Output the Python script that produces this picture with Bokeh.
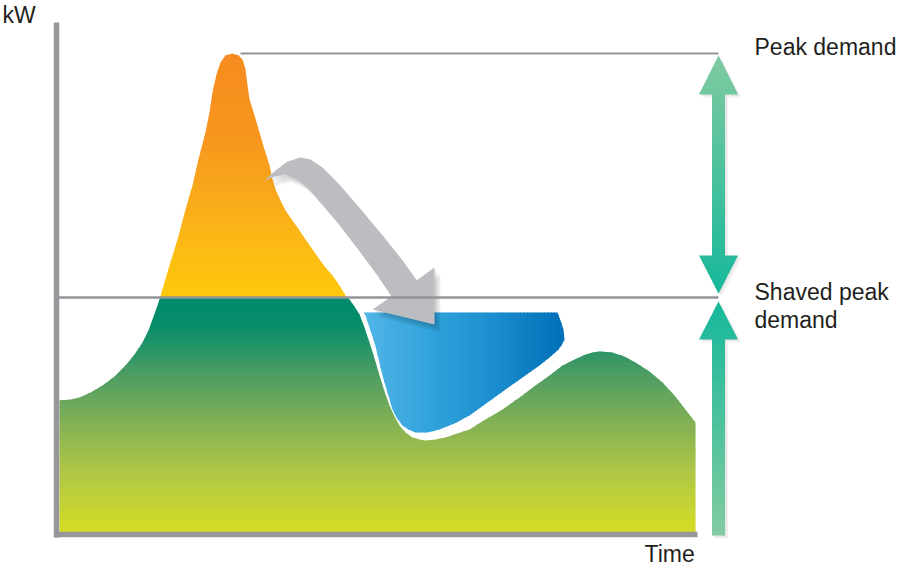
import numpy as np
from bokeh.plotting import figure
from bokeh.models import Range1d
from bokeh.core.properties import value
from bokeh.embed import file_html
from bokeh.resources import INLINE

# ---------------- data (time units, kW units) ----------------
demand_time = [2, 13, 22, 33, 45, 57, 68, 77, 85, 91, 95, 99, 102, 107, 112, 117, 122, 128, 135, 141,
               148, 152, 155, 159, 163, 168, 175, 181, 185, 188, 190, 192, 197, 202, 207, 212, 215, 218,
               223, 228, 235, 242, 248, 255, 262, 268, 275, 282, 288, 292, 297, 302, 307, 312, 317, 322,
               327, 332, 337, 342, 348, 355, 362, 368, 378, 388, 400, 412, 428, 445, 462, 478, 492, 505,
               517, 528, 535, 542, 555, 567, 578, 592, 605, 617, 628, 638]
demand_kw = [135, 136, 138, 143, 150, 159, 170, 181, 193, 205, 216, 227, 236, 253, 270, 286, 303, 326, 350, 376,
             403, 423, 443, 461, 473, 480, 482, 480, 476, 466, 450, 436, 420, 403, 386, 370, 356, 346,
             335, 325, 315, 305, 296, 286, 276, 268, 260, 250, 240, 236, 229, 221, 208, 193, 177, 160,
             144, 130, 119, 110, 103, 98, 96, 95, 96, 98, 102, 106, 116, 126, 138, 150, 160, 170,
             176, 181, 183, 184, 183, 179, 173, 164, 153, 140, 126, 113]
peak_kw = 482
shaved_kw = 238

storage_time = [306, 500, 503, 506, 507, 504, 500, 492, 482, 465, 448, 430, 412, 397, 382, 370, 358,
                351, 345, 339, 335, 330, 325, 321, 317, 312, 308]
storage_kw = [223, 223, 215, 206, 196, 190, 185, 178, 170, 158, 146, 133, 120, 112, 106, 103, 103,
              106, 110, 118, 126, 143, 160, 177, 193, 208, 220]

shift_time = [207, 218, 230, 243, 253, 265, 280, 300, 325, 345, 359, 377, 377, 315, 334, 320, 300,
              280, 263, 250, 240, 228, 217]
shift_kw = [355, 365, 374, 378, 376, 368, 353, 330, 300, 275, 255, 268, 211, 226, 239, 260, 287,
            313, 333, 348, 356, 361, 359]

axis_end_time = 640
axis_top_kw = 513
marker_time = 661
label_kw = "kW"
label_time = "Time"
label_peak = "Peak demand"
label_shaved = ["Shaved peak", "demand"]

# ---------------- helpers ----------------
def hex2rgb(h):
    return tuple(int(h[i:i + 2], 16) for i in (1, 3, 5))


def grad(stops, v):
    pos = [s[0] for s in stops]
    if v <= pos[0]:
        return stops[0][1]
    if v >= pos[-1]:
        return stops[-1][1]
    for (p0, c0), (p1, c1) in zip(stops[:-1], stops[1:]):
        if p0 <= v <= p1:
            f = (v - p0) / (p1 - p0)
            a, b = hex2rgb(c0), hex2rgb(c1)
            return "#%02x%02x%02x" % tuple(int(round(a[i] + f * (b[i] - a[i]))) for i in range(3))


def clip(poly, axis, val, keep_ge):
    out = []
    n = len(poly)
    for i in range(n):
        P, Q = poly[i - 1], poly[i]
        pin = P[axis] >= val if keep_ge else P[axis] <= val
        qin = Q[axis] >= val if keep_ge else Q[axis] <= val
        if qin:
            if not pin:
                t = (val - P[axis]) / (Q[axis] - P[axis])
                out.append((P[0] + t * (Q[0] - P[0]), P[1] + t * (Q[1] - P[1])))
            out.append(Q)
        elif pin:
            t = (val - P[axis]) / (Q[axis] - P[axis])
            out.append((P[0] + t * (Q[0] - P[0]), P[1] + t * (Q[1] - P[1])))
    return out


def banded(poly, axis, edges, stops, overlap=0.9):
    xs, ys, cols = [], [], []
    for lo, hi in zip(edges[:-1], edges[1:]):
        part = clip(clip(poly, axis, lo, True), axis, hi + overlap, False)
        if len(part) < 3:
            continue
        xs.append([q[0] for q in part])
        ys.append([q[1] for q in part])
        cols.append(grad(stops, (lo + hi) / 2))
    return xs, ys, cols


# ---------------- figure ----------------
p = figure(width=899, height=568, x_range=Range1d(-57, 842), y_range=Range1d(-33, 535),
           output_backend="svg", toolbar_location=None, min_border=0)
p.axis.visible = False
p.grid.visible = False
p.outline_line_color = None
p.background_fill_color = "white"
p.border_fill_color = "white"

demand_poly = [(demand_time[0], 0)] + list(zip(demand_time, demand_kw)) + [(demand_time[-1], 0)]

green_stops = [(0, "#d6de22"), (60, "#b2c845"), (110, "#86b254"), (160, "#4e9d63"),
               (210, "#078d6b"), (shaved_kw, "#00896b")]
orange_stops = [(shaved_kw, "#fec80c"), (263, "#fdc20f"), (310, "#fab318"), (356, "#f8a41b"),
                (403, "#f7951e"), (peak_kw, "#f68c1f")]

xs, ys, cols = banded(demand_poly, 1, np.linspace(0, shaved_kw, 70), green_stops)
p.patches(xs, ys, fill_color=cols, line_color=None)
xs, ys, cols = banded(demand_poly, 1, np.linspace(shaved_kw, peak_kw + 1, 70), orange_stops)
p.patches(xs, ys, fill_color=cols, line_color=None)

blue_stops = [(306, "#52b5e7"), (380, "#2ea1da"), (440, "#1b8ccd"), (507, "#006fb8")]
storage_poly = list(zip(storage_time, storage_kw))
xs, ys, cols = banded(storage_poly, 0, np.linspace(min(storage_time), max(storage_time), 60), blue_stops)
p.patches(xs, ys, fill_color=cols, line_color=None)

# shifted-load arrow with soft shadow
sx, sy = np.array(shift_time, float), np.array(shift_kw, float)
for dx, dy in [(2, -2), (3, -4), (5, -6), (6, -8)]:
    p.patch(sx + dx, sy + dy, fill_color="#000000", fill_alpha=0.05, line_color=None)
p.patch(sx, sy, fill_color="#bcbdc0", line_color=None)

# reference lines
p.segment(x0=[0], y0=[shaved_kw], x1=[marker_time], y1=[shaved_kw], line_color="#939598", line_width=2.5)
p.segment(x0=[183], y0=[peak_kw], x1=[marker_time], y1=[peak_kw], line_color="#939598", line_width=2)

# teal marker arrows
hw, sw = 19.5, 6.5
up_poly = [(marker_time, peak_kw - 2), (marker_time + hw, 441), (marker_time + sw, 441),
           (marker_time + sw, 280), (marker_time + hw, 280), (marker_time, shaved_kw + 4),
           (marker_time - hw, 280), (marker_time - sw, 280), (marker_time - sw, 441), (marker_time - hw, 441)]
low_poly = [(marker_time, shaved_kw - 4), (marker_time + hw, 196), (marker_time + sw, 196),
            (marker_time + sw, 0), (marker_time - sw, 0), (marker_time - sw, 196), (marker_time - hw, 196)]
for poly in (up_poly, low_poly):
    ax_, ay_ = np.array([q[0] for q in poly]), np.array([q[1] for q in poly])
    for dx, dy in [(1.5, -1.5), (3, -3)]:
        p.patch(ax_ + dx, ay_ + dy, fill_color="#000000", fill_alpha=0.05, line_color=None)
up_stops = [(shaved_kw, "#14b89a"), (peak_kw, "#80caa0")]
low_stops = [(0, "#82cba0"), (shaved_kw, "#14b89a")]
xs, ys, cols = banded(up_poly, 1, np.linspace(shaved_kw, peak_kw, 50), up_stops)
p.patches(xs, ys, fill_color=cols, line_color=None)
xs, ys, cols = banded(low_poly, 1, np.linspace(0, shaved_kw, 50), low_stops)
p.patches(xs, ys, fill_color=cols, line_color=None)

# axes
p.segment(x0=[-1], y0=[axis_top_kw], x1=[-1], y1=[-2], line_color="#97979b", line_width=5.5)
p.segment(x0=[-3], y0=[1], x1=[axis_end_time], y1=[1], line_color="#97979b", line_width=5.5)

# texts
font = value("Liberation Sans")
p.text(x=[-55, 587, 697, 697, 697], y=[521, -18, 489, 244, 216],
       text=[label_kw, label_time, label_peak, label_shaved[0], label_shaved[1]],
       text_font=font, text_font_size="23px", text_color="#231f20",
       text_baseline="alphabetic", text_align="left")

open("out.html", "w").write(file_html(p, INLINE))
